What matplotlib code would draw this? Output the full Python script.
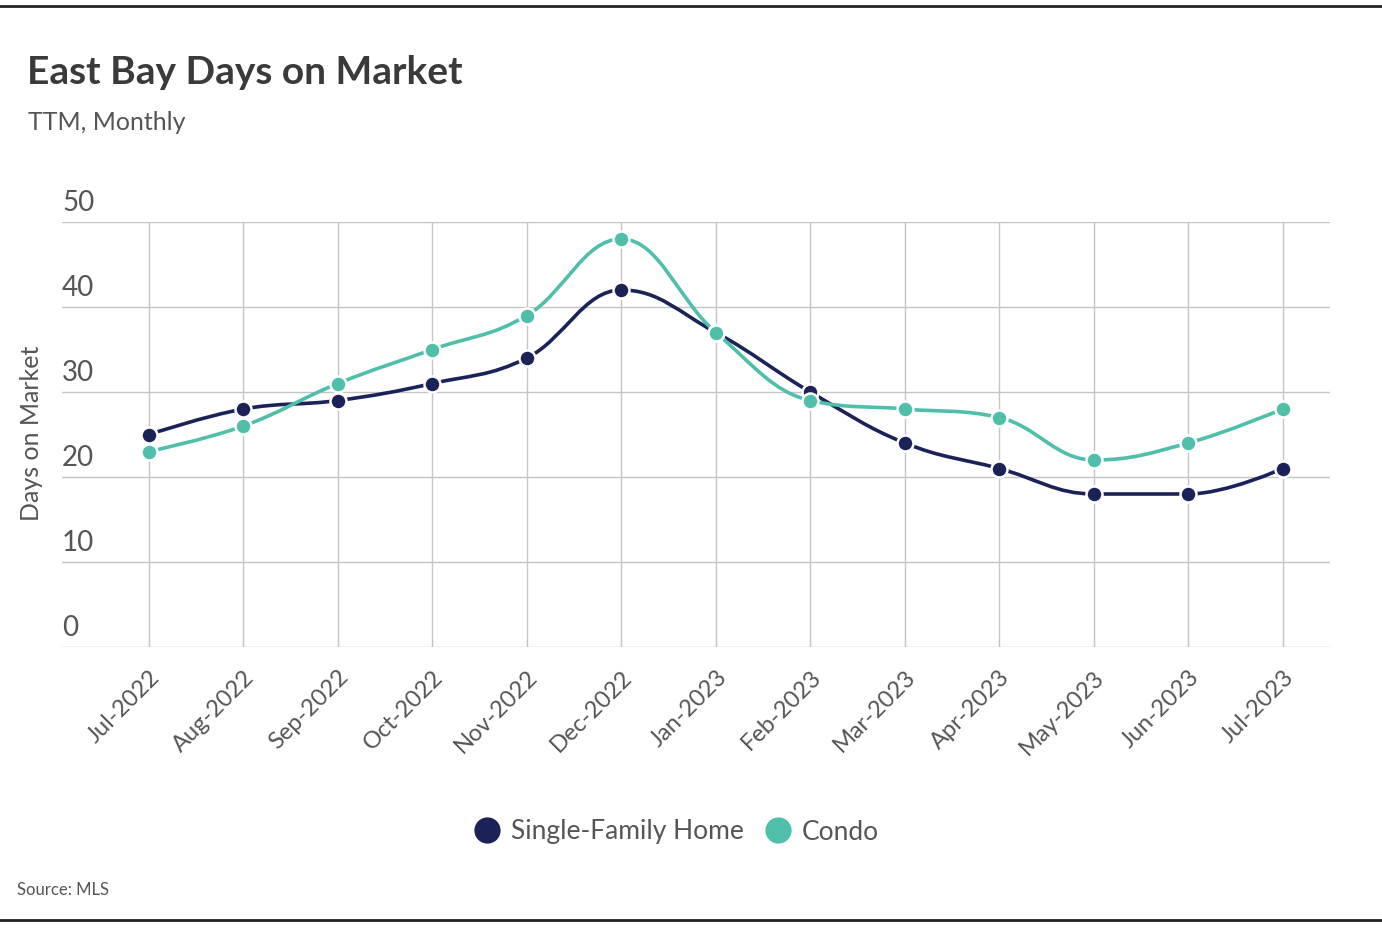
import numpy as np
import matplotlib.pyplot as plt
from matplotlib.path import Path
from matplotlib.patches import PathPatch
import matplotlib.transforms as mtransforms

plt.rcParams['font.family'] = ['Lato', 'DejaVu Sans']

# data
months = ["Jul-2022", "Aug-2022", "Sep-2022", "Oct-2022", "Nov-2022", "Dec-2022",
          "Jan-2023", "Feb-2023", "Mar-2023", "Apr-2023", "May-2023", "Jun-2023", "Jul-2023"]
single_family = [25, 28, 29, 31, 34, 42, 37, 30, 24, 21, 18, 18, 21]
condo = [23, 26, 31, 35, 39, 48, 37, 29, 28, 27, 22, 24, 28]
y_ticks = [0, 10, 20, 30, 40, 50]

navy = "#1b2258"
teal = "#4fbfaa"
grid_col = "#c4c4c4"
text_col = "#555555"


def spline_path(xs, ys, smoothing=1.5):
    # highcharts-like spline: bezier control points per point
    n = len(xs)
    left = [None] * n
    right = [None] * n
    for i in range(n):
        x, y = xs[i], ys[i]
        if i == 0 or i == n - 1:
            left[i] = (x, y)
            right[i] = (x, y)
            continue
        px, py = xs[i - 1], ys[i - 1]
        nx, ny = xs[i + 1], ys[i + 1]
        d = smoothing + 1
        lcx = (smoothing * x + px) / d
        lcy = (smoothing * y + py) / d
        rcx = (smoothing * x + nx) / d
        rcy = (smoothing * y + ny) / d
        corr = ((rcy - lcy) * (rcx - x)) / (rcx - lcx) + y - rcy
        lcy += corr
        rcy += corr
        if lcy > py and lcy > y:
            lcy = max(py, y)
            rcy = 2 * y - lcy
        elif lcy < py and lcy < y:
            lcy = min(py, y)
            rcy = 2 * y - lcy
        if rcy > ny and rcy > y:
            rcy = max(ny, y)
            lcy = 2 * y - rcy
        elif rcy < ny and rcy < y:
            rcy = min(ny, y)
            lcy = 2 * y - rcy
        left[i] = (lcx, lcy)
        right[i] = (rcx, rcy)
    verts = [(xs[0], ys[0])]
    codes = [Path.MOVETO]
    for i in range(1, n):
        verts += [right[i - 1], left[i], (xs[i], ys[i])]
        codes += [Path.CURVE4] * 3
    return Path(verts, codes)


fig = plt.figure(figsize=(13.82, 9.34), dpi=100)
ax = fig.add_axes([62 / 1382, 1 - 647 / 934, (1330 - 62) / 1382, (647 - 222) / 934])

x = np.arange(len(months))
for vals, col, lab in [(single_family, navy, "Single-Family Home"), (condo, teal, "Condo")]:
    p = spline_path(list(x), vals)
    ax.add_patch(PathPatch(p, fill=False, edgecolor=col, lw=2.6, zorder=3))
    ax.plot(x, vals, 'o', color=col, ms=11.5, mec='white', mew=1.8, zorder=4, label=lab)

ax.set_xlim(-0.92, 12.5)
ax.set_ylim(0, 50)
for s in ax.spines.values():
    s.set_visible(False)
ax.set_yticks(y_ticks)
ax.set_yticklabels([])
ax.tick_params(axis='y', length=0)
ax.grid(axis='y', color=grid_col, lw=1)
ax.set_xticks(x)
ax.set_xticklabels(months, rotation=45, ha='right', rotation_mode='anchor',
                   fontsize=17, color=text_col)
ax.tick_params(axis='x', length=0, pad=14)
for xi in x:
    ax.axvline(xi, color=grid_col, lw=1, zorder=0)

trans = mtransforms.blended_transform_factory(ax.transAxes, ax.transData)
for t in y_ticks:
    ax.text(0.0, t + 0.7, str(t), transform=trans, ha='left', va='bottom',
            fontsize=20, color=text_col)

fig.text(32 / 1382, 1 - 433 / 934, "Days on Market", rotation=90, ha='center', va='center',
         fontsize=18, color=text_col)

fig.text(27 / 1382, 1 - 72 / 934, "East Bay Days on Market", ha='left', va='center',
         fontsize=28, fontweight='bold', color="#3a3a3a")
fig.text(28 / 1382, 1 - 123 / 934, "TTM, Monthly", ha='left', va='center',
         fontsize=18, color=text_col)
fig.text(17 / 1382, 1 - 890 / 934, "Source: MLS", ha='left', va='center',
         fontsize=12, color=text_col)

fig.legend(loc='center', bbox_to_anchor=(674 / 1382, 1 - 832 / 934), ncols=2,
           frameon=False, fontsize=19, labelcolor=text_col, handletextpad=0.2,
           columnspacing=0.6, markerscale=1.8, handlelength=1.4)

fig.add_artist(plt.Line2D([0, 1], [1 - 6 / 934, 1 - 6 / 934], color='#222222', lw=2))
fig.add_artist(plt.Line2D([0, 1], [1 - 920 / 934, 1 - 920 / 934], color='#222222', lw=2))

fig.savefig("out.png", dpi=100)
